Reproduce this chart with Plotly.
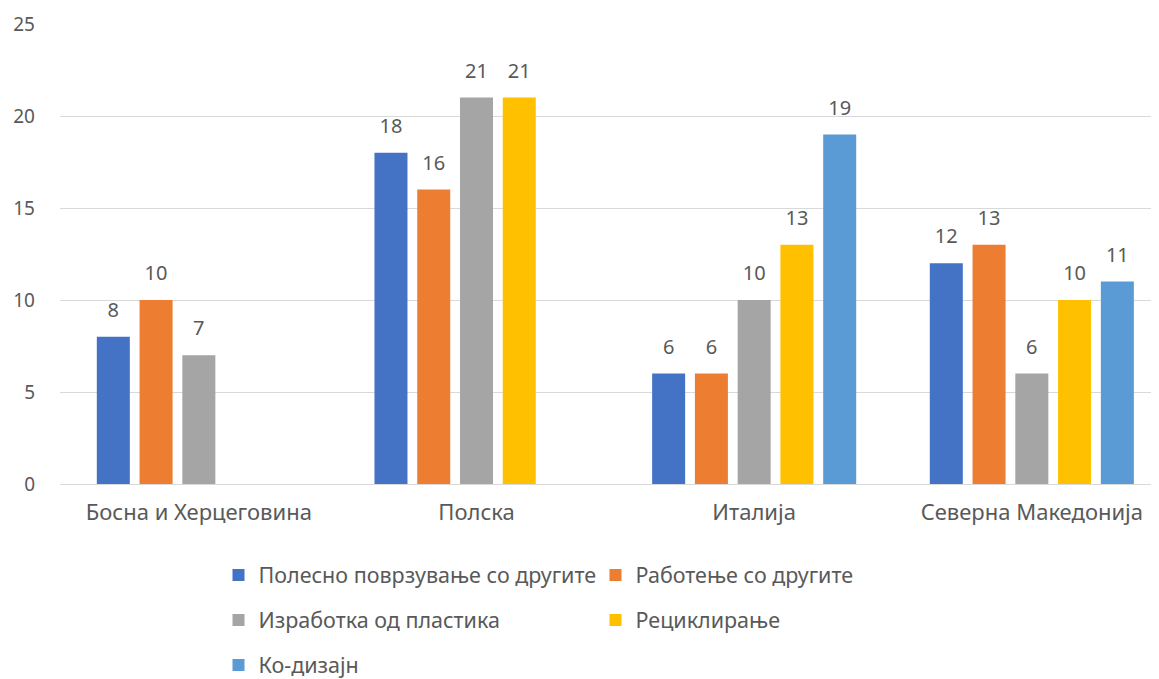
import plotly.graph_objects as go

categories = ["Босна и Херцеговина", "Полска", "Италија", "Северна Македонија"]
series_names = [
    "Полесно поврзување со другите",
    "Работење со другите",
    "Изработка од пластика",
    "Рециклирање",
    "Ко-дизајн",
]
povrzuvanje = [8, 18, 6, 12]
rabotenje = [10, 16, 6, 13]
izrabotka = [7, 21, 10, 6]
recikliranje = [None, 21, 13, 10]
kodizajn = [None, None, 19, 11]
y_ticks = [0, 5, 10, 15, 20, 25]

series_values = [povrzuvanje, rabotenje, izrabotka, recikliranje, kodizajn]
colors = ["#4472C4", "#ED7D31", "#A5A5A5", "#FFC000", "#5B9BD5"]
legend_ids = ["legend", "legend", "legend2", "legend2", "legend3"]

FONT = "Noto Sans"
GREY = "#595959"
GAP = 0.23
W, H = 1151.0, 671.0   # page body has an 8px margin
OFF = 8.0

fig = go.Figure()
for i, (name, vals) in enumerate(zip(series_names, series_values)):
    fig.add_trace(go.Bar(
        x=categories, y=vals, name=name,
        marker=dict(color=colors[i], line=dict(width=0)),
        offsetgroup=f"g{i}", alignmentgroup="a",
        legend=legend_ids[i], hoverinfo="x+y+name",
    ))
for i, vals in enumerate(series_values):
    fig.add_trace(go.Scatter(
        x=categories, y=vals, mode="markers+text",
        text=[("" if v is None else str(v)) for v in vals],
        textposition="top center",
        textfont=dict(family=FONT, size=20, color=GREY),
        marker=dict(size=22, opacity=0),
        offsetgroup=f"g{i}", alignmentgroup="a",
        showlegend=False, hoverinfo="skip", cliponaxis=False,
    ))

legend_common = dict(
    orientation="h", xref="container", yref="container",
    xanchor="left", yanchor="middle", x=(218.5 - OFF) / W,
    entrywidth=332, entrywidthmode="pixels",
    font=dict(family=FONT, size=21.5, color=GREY),
    bgcolor="rgba(0,0,0,0)", borderwidth=0, itemclick=False,
)

fig.update_layout(
    width=W, height=H,
    margin=dict(l=60 - OFF, r=0, t=24 - OFF, b=H - (484 - OFF)),
    paper_bgcolor="white", plot_bgcolor="white",
    barmode="group", bargap=GAP, bargroupgap=0.228,
    scattermode="group", scattergap=GAP,
    font=dict(family=FONT, color=GREY),
    xaxis=dict(
        type="category", range=[-0.5, 3.458],
        showgrid=False, showline=False, zeroline=False,
        ticks="", ticklabelstandoff=13,
        tickfont=dict(family=FONT, size=22, color=GREY),
    ),
    yaxis=dict(
        range=[0, 25], tickvals=y_ticks,
        showgrid=True, gridcolor="#D9D9D9", gridwidth=1,
        zeroline=True, zerolinecolor="#D9D9D9", zerolinewidth=1,
        showline=False, ticks="", ticklabelstandoff=24,
        tickfont=dict(family=FONT, size=19, color=GREY),
    ),
    legend=dict(legend_common, y=1 - (575 - OFF) / H),
    legend2=dict(legend_common, y=1 - (620 - OFF) / H),
    legend3=dict(legend_common, y=1 - (665 - OFF) / H),
)

fig.write_html("out.html")
